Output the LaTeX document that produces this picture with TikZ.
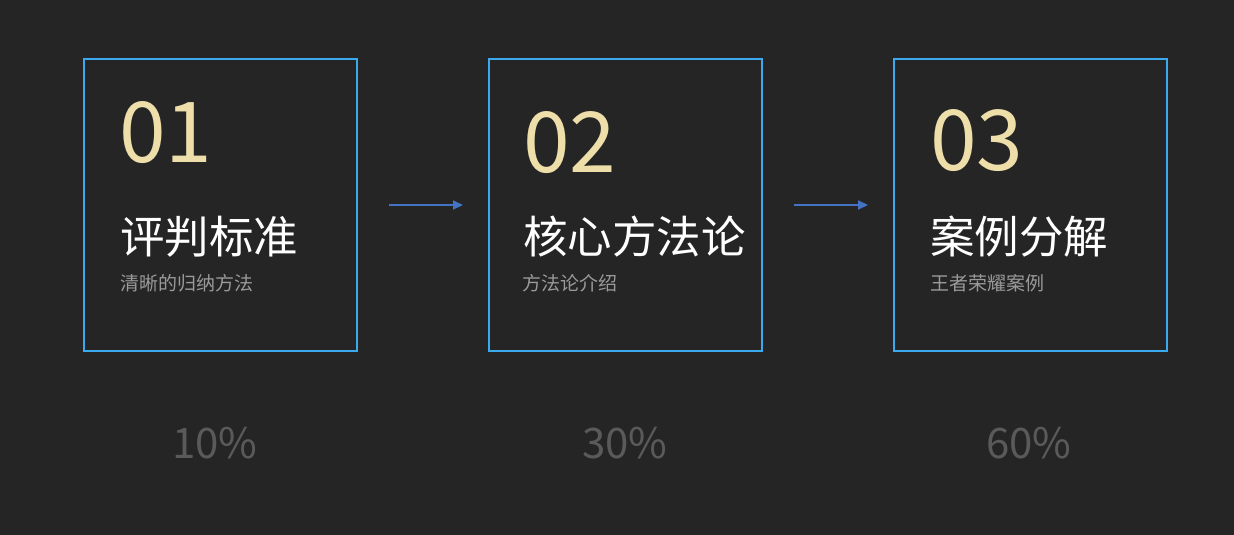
\documentclass[tikz,border=0pt]{standalone}
\usepackage{fontspec}
\setmainfont{Noto Sans CJK SC}
\usetikzlibrary{arrows.meta,positioning}

\definecolor{bgdark}{HTML}{252525}
\definecolor{cardblue}{HTML}{3BA9EE}
\definecolor{numgold}{HTML}{EEDFAA}
\definecolor{subgray}{HTML}{9A9A9A}
\definecolor{pctgray}{HTML}{5A5A5A}
\definecolor{arrowblue}{HTML}{4472C4}

\begin{document}
\begin{tikzpicture}[x=1pt,y=-1pt,>={Triangle[length=10pt,width=9pt]},
    card/.style={draw=cardblue,line width=2pt,minimum width=273pt,minimum height=292pt,inner sep=0pt},
    num/.style={anchor=base west,inner sep=0pt,text=numgold,font=\fontsize{84}{84}\selectfont},
    title/.style={anchor=base west,inner sep=0pt,text=white,font=\fontsize{44.5}{44.5}\selectfont},
    subtitle/.style={anchor=base west,inner sep=0pt,text=subgray,font=\fontsize{19}{19}\selectfont},
    pct/.style={inner sep=0pt,text=pctgray,font=\fontsize{42}{42}\selectfont},
    link/.style={->,draw=arrowblue,line width=2pt,shorten <=31pt,shorten >=25pt}]

    \fill[bgdark] (0,0) rectangle (1234,535);
    \useasboundingbox (0,0) rectangle (1234,535);

    % the three steps
    \node[card] (c1) at (220.5,205) {};
    \node[card] (c2) at (625.5,205) {};
    \node[card] (c3) at (1030.5,205) {};

    \node[num] (n1) at (119,162) {01};
    \node[num] (n2) at (523,172) {02};
    \node[num] (n3) at (930,170) {03};

    \node[title] (t1) at (120,253) {评判标准};
    \node[title] (t2) at (523,253) {核心方法论};
    \node[title] (t3) at (930,253) {案例分解};

    \node[subtitle] (s1) at (120,290) {清晰的归纳方法};
    \node[subtitle] (s2) at (522,290) {方法论介绍};
    \node[subtitle] (s3) at (930,290) {王者荣耀案例};

    % shares
    \node[pct] (p1) at (215,443) {10\%};
    \node[pct] (p2) at (625,443) {30\%};
    \node[pct] (p3) at (1029,443) {60\%};

    \path (c1) edge[link] (c2)
          (c2) edge[link] (c3);
\end{tikzpicture}
\end{document}
